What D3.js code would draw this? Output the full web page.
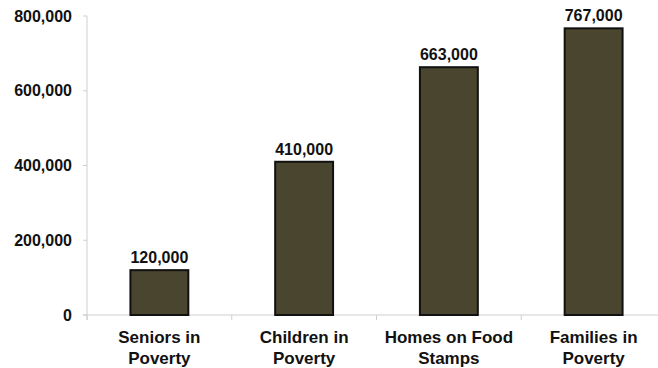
<!DOCTYPE html>
<html><head><meta charset="utf-8">
<script src="https://cdn.jsdelivr.net/npm/d3@7"></script>
<style>body{margin:0;background:#fff}svg{display:block}text{font-family:"Liberation Sans",Arial,sans-serif;font-weight:bold;fill:#111}</style>
</head><body><svg id="c" width="658" height="368"></svg>
<script>
const categories = [["Seniors in","Poverty"],["Children in","Poverty"],["Homes on Food","Stamps"],["Families in","Poverty"]];
const values = [120000, 410000, 663000, 767000];
const yTicks = [0, 200000, 400000, 600000, 800000];

const svg = d3.select("#c");
const x0 = 87, x1 = 666, yTop = 16, yBot = 315;
const x = d3.scaleBand().domain(d3.range(values.length)).range([x0, x1]).paddingInner(0.6).paddingOuter(0.3);
const xb = d3.scaleLinear().domain([0, values.length]).range([x0, x1]);
const y = d3.scaleLinear().domain([0, 800000]).range([yBot, yTop]);
const fmt = d3.format(",");
const axisCol = "#cfcfcf";

// y axis
svg.append("line").attr("x1", x0).attr("x2", x0).attr("y1", yTop).attr("y2", yBot + 5).attr("stroke", axisCol).attr("stroke-width", 1);
yTicks.forEach(t => {
  svg.append("line").attr("x1", x0 - 4).attr("x2", x0).attr("y1", y(t)).attr("y2", y(t)).attr("stroke", axisCol);
  svg.append("text").attr("x", 72).attr("y", y(t)).attr("dy", "0.35em").attr("text-anchor", "end").attr("font-size", 16).text(fmt(t));
});
// x axis
svg.append("line").attr("x1", x0 - 4).attr("x2", 658).attr("y1", yBot).attr("y2", yBot).attr("stroke", axisCol);
d3.range(values.length + 1).forEach(i => {
  svg.append("line").attr("x1", xb(i)).attr("x2", xb(i)).attr("y1", yBot).attr("y2", yBot + 5).attr("stroke", axisCol);
});

// bars
svg.selectAll("rect.bar").data(values).join("rect").attr("class", "bar")
  .attr("x", (d, i) => x(i)).attr("width", x.bandwidth())
  .attr("y", d => y(d)).attr("height", d => yBot - y(d))
  .attr("fill", "#4a452e").attr("stroke", "#111").attr("stroke-width", 2);

// value labels
svg.selectAll("text.val").data(values).join("text").attr("class", "val")
  .attr("x", (d, i) => x(i) + x.bandwidth() / 2).attr("y", d => y(d) - 7)
  .attr("text-anchor", "middle").attr("font-size", 16).text(d => fmt(d));

// category labels
categories.forEach((c, i) => {
  const t = svg.append("text").attr("text-anchor", "middle").attr("font-size", 17);
  c.forEach((line, j) => t.append("tspan").attr("x", x(i) + x.bandwidth() / 2).attr("y", 343 + j * 21).text(line));
});
</script></body></html>
